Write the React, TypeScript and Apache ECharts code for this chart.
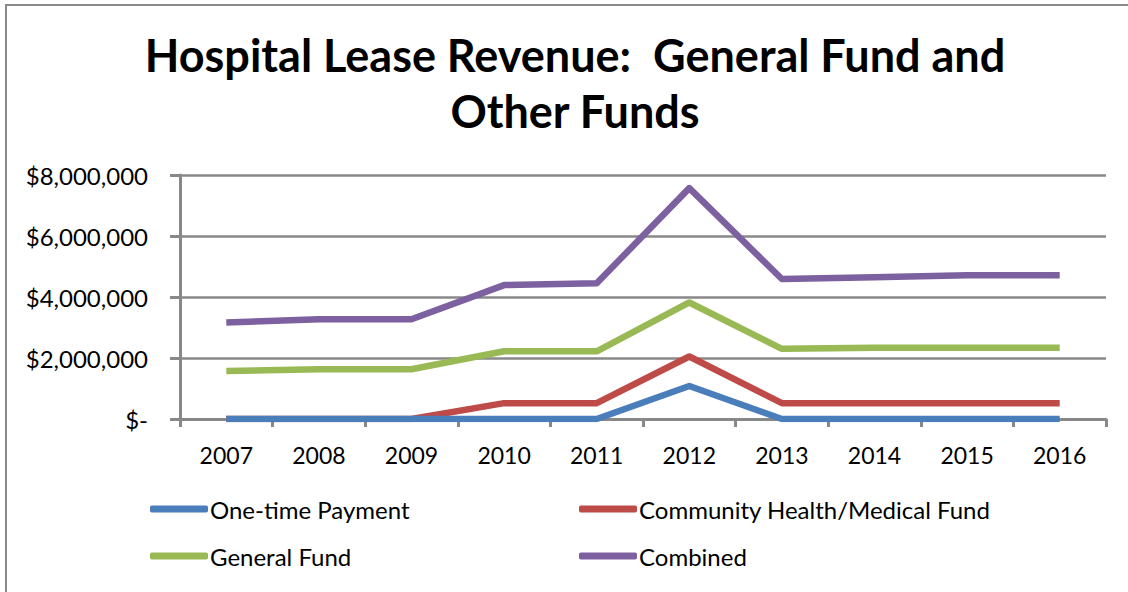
import React, { useEffect, useRef } from "react";
import * as echarts from "echarts";

const years = ["2007", "2008", "2009", "2010", "2011", "2012", "2013", "2014", "2015", "2016"];
const oneTime = [0, 0, 0, 0, 0, 1080000, 0, 0, 0, 0];
const community = [0, 0, 0, 520000, 520000, 2050000, 520000, 520000, 520000, 520000];
const generalFund = [1570000, 1630000, 1630000, 2220000, 2220000, 3820000, 2300000, 2340000, 2340000, 2340000];
const combined = [3160000, 3270000, 3270000, 4390000, 4450000, 7570000, 4590000, 4650000, 4710000, 4710000];
const yTicks = [0, 2000000, 4000000, 6000000, 8000000];

const names = ["One-time Payment", "Community Health/Medical Fund", "General Fund", "Combined"];
const colors = ["#4A7EBB", "#BE4B48", "#98B954", "#7D60A0"];
const values = [oneTime, community, generalFund, combined];

const FONT = "Lato";

export default function App() {
  const ref = useRef<HTMLDivElement>(null);
  useEffect(() => {
    if (!ref.current) return;
    const chart = echarts.init(ref.current, null, { renderer: "svg" });
    const legendCommon = {
      orient: "vertical",
      itemWidth: 58,
      itemHeight: 7,
      itemGap: 23,
      icon: "roundRect",
      textStyle: { fontFamily: FONT, fontSize: 24, color: "#000", padding: [0, 0, 0, -3] },
      selectedMode: false,
    };
    chart.setOption({
      animation: false,
      backgroundColor: "#fff",
      title: {
        text: "Hospital Lease Revenue:  General Fund and\nOther Funds",
        left: 570,
        top: 22,
        textAlign: "center",
        textStyle: { fontFamily: FONT, fontSize: 45, fontWeight: "bold", color: "#000", lineHeight: 56 },
      },
      graphic: [
        {
          type: "rect",
          shape: { x: 6, y: 5, width: 1300, height: 800 },
          style: { fill: "none", stroke: "#898989", lineWidth: 2 },
          z: -1,
        },
      ],
      legend: [
        { ...legendCommon, left: 145, top: 492, data: [names[0], names[2]] },
        { ...legendCommon, left: 574, top: 492, data: [names[1], names[3]] },
      ],
      grid: { left: 180, right: 22, top: 175, bottom: 173 },
      xAxis: {
        type: "category",
        data: years,
        boundaryGap: true,
        axisLine: { lineStyle: { color: "#888", width: 3 } },
        axisTick: { show: true, length: 8, lineStyle: { color: "#888", width: 3 } },
        axisLabel: { fontFamily: FONT, fontSize: 23, color: "#000", margin: 24 },
      },
      yAxis: {
        type: "value",
        min: 0,
        max: 8000000,
        interval: 2000000,
        axisLine: { show: true, lineStyle: { color: "#888", width: 3 } },
        axisTick: { show: true, length: 10, lineStyle: { color: "#888", width: 3 } },
        splitLine: { lineStyle: { color: "#888", width: 2.5 } },
        axisLabel: {
          fontFamily: FONT,
          fontSize: 24,
          color: "#000",
          margin: 32,
          formatter: (v: number) => (v === 0 ? "$-" : "$" + v.toLocaleString("en-US")),
          customValues: yTicks,
        },
      },
      series: names.map((n, i) => ({
        name: n,
        type: "line",
        data: values[i],
        symbol: "none",
        color: colors[i],
        lineStyle: { width: 6.5, color: colors[i], join: "round", cap: "butt" },
        z: 2 + (3 - i),
      })),
    });
    return () => chart.dispose();
  }, []);
  return <div ref={ref} style={{ position: "fixed", left: 0, top: 0, width: 1128, height: 592 }} />;
}
